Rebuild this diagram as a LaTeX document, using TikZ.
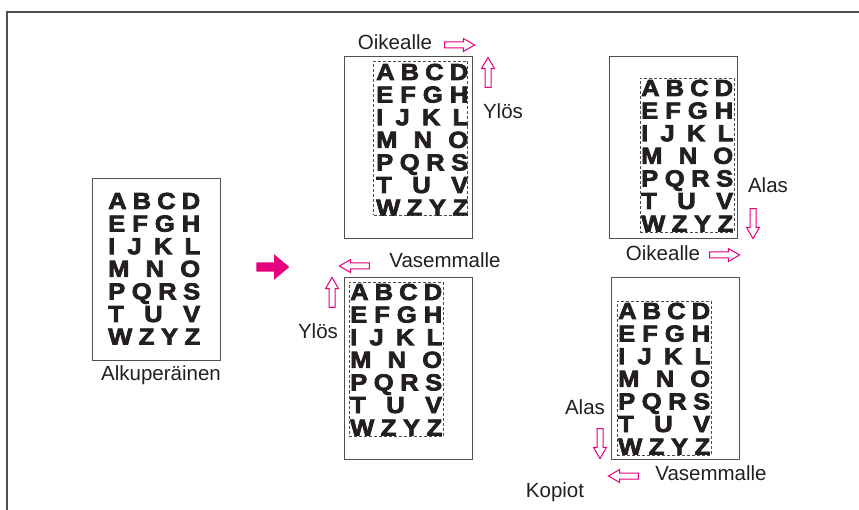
\documentclass[tikz,border=0pt]{standalone}
\usepackage{fontspec}
\setmainfont{Liberation Sans}
\newfontfamily\blackfont[FakeBold=3.2, FakeStretch=1.1]{Liberation Sans Bold}
\usetikzlibrary{shapes.arrows}
\definecolor{pinkarrow}{RGB}{230,0,126}
\definecolor{inkblack}{RGB}{35,31,32}
\definecolor{framegray}{RGB}{80,80,80}

% one block of test letters, origin = baseline of the first row
\tikzset{abc/.pic={
  \foreach \row [count=\i from 0] in {{A\hfill B\hfill C\hfill D},
      {E\hfill F\hfill G\hfill H},{I\hfill J\hfill K\hfill L},
      {M\hfill N\hfill O},{P\hfill Q\hfill R\hfill S},
      {T\hfill U\hfill V},{W\hfill Z\hfill Y\hfill Z}}
    \node[glyphs, anchor=base west] (-row\i) at (0,\i*22.6)
      {\makebox[92pt][s]{\row}};
}}

\begin{document}
\begin{tikzpicture}[x=1pt, y=-1pt,
    page/.style={rectangle, draw=framegray, line width=0.9pt,
      minimum width=128pt, minimum height=182pt, inner sep=0pt},
    cropbox/.style={rectangle, draw=black!70, dash pattern=on 3pt off 2pt,
      line width=0.7pt, minimum width=94pt, minimum height=154pt,
      inner sep=0pt},
    glyphs/.style={font=\fontsize{23.2}{23.2}\selectfont\blackfont,
      text=inkblack, inner sep=0pt},
    lbl/.style={font=\fontsize{20.5}{22}\selectfont, text=inkblack,
      inner sep=0pt},
    dirarrow/.style={single arrow, draw=pinkarrow, fill=white,
      line width=1pt, minimum height=30pt, inner sep=2.5pt,
      single arrow head extend=3.5pt, single arrow tip angle=60},
    bigarrow/.style={single arrow, fill=pinkarrow, minimum height=33pt,
      inner sep=4.5pt, single arrow head extend=8pt,
      single arrow tip angle=80}
  ]
    \useasboundingbox (0,0) rectangle (859,510);
    \draw[framegray, line width=1.3pt] (7,510) -- (7,12) -- (859,12);

    % Alkuperainen
    \node[page] (orig) at (156,269) {};
    \pic (origabc) at (108,209) {abc};
    \node[lbl] (origtxt) at (161,375) {Alkuperäinen};
    \node[bigarrow] (go) at (270,267) {};

    % Kopiot
    \node[page] (copy1) at (408,147) {};
    \node[page] (copy2) at (673,147) {};
    \node[page] (copy3) at (408,368.5) {};
    \node[page] (copy4) at (675,368) {};
    \pic (abc1) at (376,80) {abc};
    \pic (abc2) at (641,96) {abc};
    \pic (abc3) at (350,300) {abc};
    \pic (abc4) at (618,319) {abc};
    \node[cropbox] (crop1) at (420.5,138) {};
    \node[cropbox] (crop2) at (687,155.5) {};
    \node[cropbox] (crop3) at (396,359.5) {};
    \node[cropbox] (crop4) at (664,378) {};

    % Suunnat
    \node[lbl] (right1) at (395,42) {Oikealle};
    \node[dirarrow] (rarrow1) at (457,45) {};
    \node[dirarrow, shape border rotate=90] (uarrow1) at (488,75) {};
    \node[lbl] (up1) at (503,111) {Ylös};

    \node[lbl] (down2) at (768,185) {Alas};
    \node[dirarrow, shape border rotate=270] (darrow2) at (753,221) {};
    \node[lbl] (right2) at (663,253) {Oikealle};
    \node[dirarrow] (rarrow2) at (722,255) {};

    \node[lbl] (left3) at (445,260) {Vasemmalle};
    \node[dirarrow, shape border rotate=180] (larrow3) at (357,266) {};
    \node[dirarrow, shape border rotate=90] (uarrow3) at (332,295) {};
    \node[lbl] (up3) at (318,331) {Ylös};

    \node[lbl] (down4) at (585,407) {Alas};
    \node[dirarrow, shape border rotate=270] (darrow4) at (600,441) {};
    \node[dirarrow, shape border rotate=180] (larrow4) at (626,476) {};
    \node[lbl] (left4) at (711,473) {Vasemmalle};
    \node[lbl] (copytxt) at (555,492) {Kopiot};
  \end{tikzpicture}
\end{document}
